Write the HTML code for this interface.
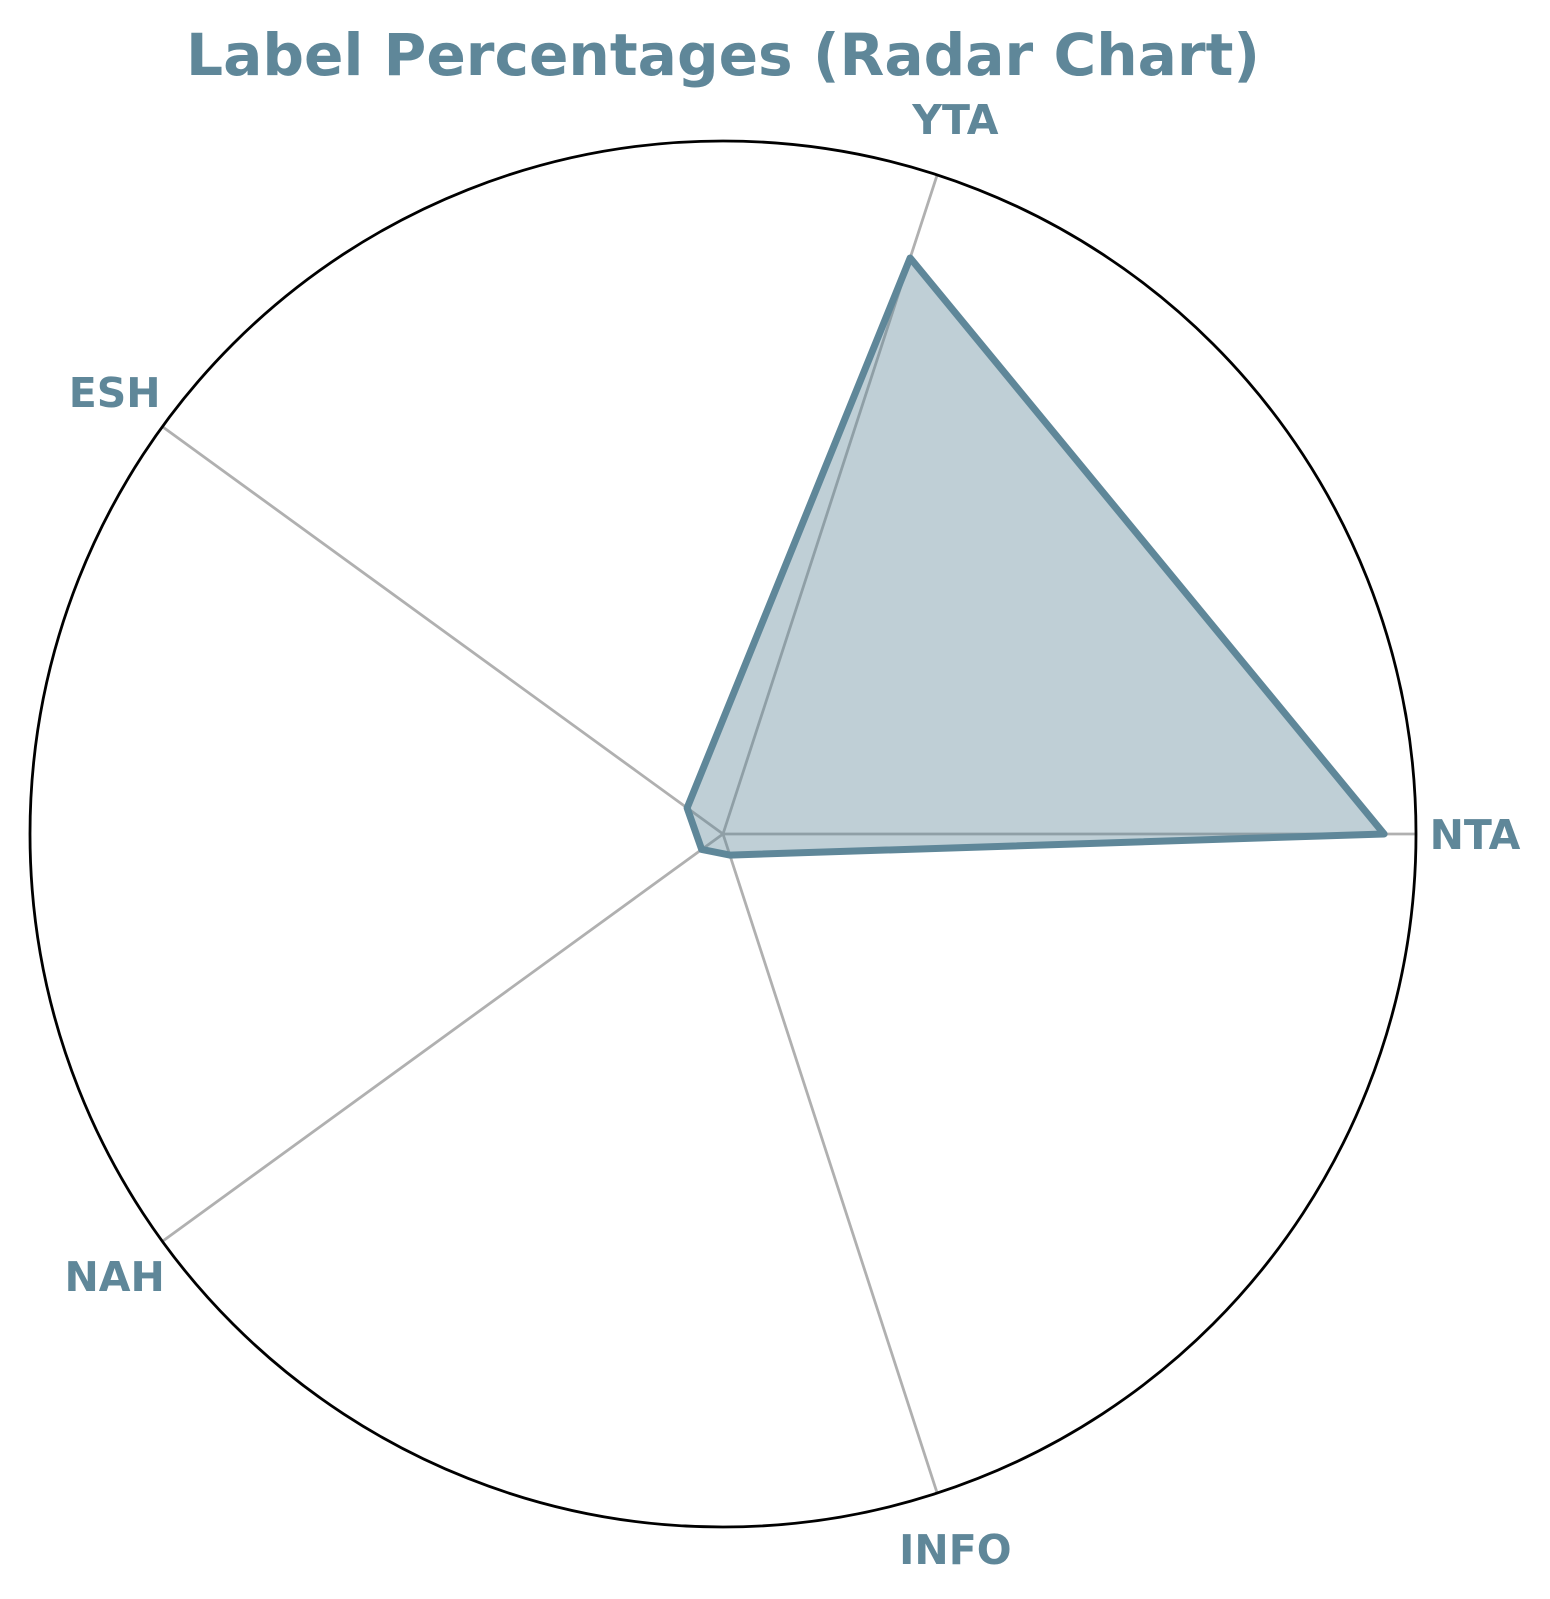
<!DOCTYPE html>
<html><head><meta charset="utf-8"><style>
html,body{margin:0;padding:0;background:#fff;}
svg{display:block;}
text{font-family:"DejaVu Sans","Liberation Sans",sans-serif;font-weight:bold;fill:#5f8799;}
</style></head><body>
<svg id="chart" width="1550" height="1599" viewBox="0 0 1550 1599" xmlns="http://www.w3.org/2000/svg">
<text x="723" y="75" text-anchor="middle" font-size="58" textLength="1074" lengthAdjust="spacingAndGlyphs">Label Percentages (Radar Chart)</text>
<g id="spokes"></g>
<circle cx="723" cy="834" r="693" fill="none" stroke="#000" stroke-width="2.8"/>
<g id="series"></g>
<g id="labels"></g>
</svg>
<script>
const categories = ["NTA","YTA","ESH","NAH","INFO"];
const values = [47.7, 43.7, 3.2, 1.9, 1.6];
const rMax = 50;
const cx = 723, cy = 834, R = 693, labelR = 752;
const NS = "http://www.w3.org/2000/svg";
function ang(i){ return i * 2 * Math.PI / categories.length; }
function pt(i, r){ return [cx + r*Math.cos(ang(i)), cy - r*Math.sin(ang(i))]; }
function rScale(v){ return v / rMax * R; }
const spokes = document.getElementById('spokes');
categories.forEach((c,i)=>{
  const [x,y] = pt(i, R);
  const l = document.createElementNS(NS,'line');
  
  
  l.setAttribute('x1', cx); l.setAttribute('y1', cy);
  l.setAttribute('x2', x); l.setAttribute('y2', y);
  l.setAttribute('stroke', '#b0b0b0'); l.setAttribute('stroke-width', '2.8');
  spokes.appendChild(l);
});
const series = document.getElementById('series');
const pts = values.map((v,i)=>pt(i, rScale(v)).join(',')).join(' ');
const poly = document.createElementNS(NS,'polygon');


poly.setAttribute('points', pts);
poly.setAttribute('fill', 'rgba(95,135,153,0.4)');
poly.setAttribute('stroke', '#5f8799');
poly.setAttribute('stroke-width', '7');
poly.setAttribute('stroke-linejoin', 'round');
series.appendChild(poly);
const labels = document.getElementById('labels');
categories.forEach((c,i)=>{
  const [x,y] = pt(i, labelR);
  const t = document.createElementNS(NS,'text');
  
  
  t.setAttribute('x', x); t.setAttribute('y', y + 15);
  t.setAttribute('text-anchor', 'middle');
  t.setAttribute('font-size', '41');
  t.textContent = c;
  labels.appendChild(t);
});
</script>
</body></html>
